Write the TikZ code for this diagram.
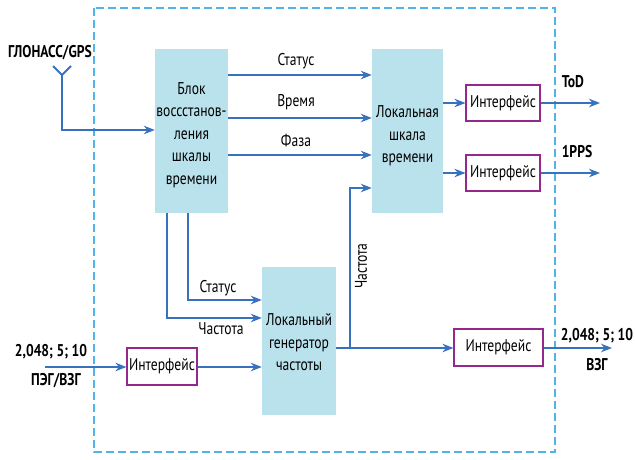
\documentclass[tikz,border=0pt]{standalone}
\usepackage{fontspec}
\setmainfont{PT Sans}[FakeStretch=0.8]
\usetikzlibrary{arrows.meta,calc}
\definecolor{arrblue}{RGB}{56,114,190}
\definecolor{boxblue}{RGB}{186,226,236}
\definecolor{dashblue}{RGB}{80,180,230}
\definecolor{ifpurple}{RGB}{150,40,140}
\tikzset{
  arr/.style={draw=arrblue, line width=2pt, -{Stealth[length=11pt,width=8.5pt]}},
  ln/.style={draw=arrblue, line width=2pt},
  bigbox/.style={fill=boxblue, draw=none, inner sep=0pt},
  boxtext/.style={align=center, inner sep=0pt, font=\fontsize{17}{22.5}\selectfont},
  ifbox/.style={draw=ifpurple, line width=1.1pt, fill=white, inner sep=0pt, font=\fontsize{17}{20}\selectfont},
  lbl/.style={font=\fontsize{17}{20}\selectfont, inner sep=0pt},
  blbl/.style={font=\fontsize{17}{20}\selectfont\bfseries, inner sep=0pt},
}
\begin{document}
\begin{tikzpicture}[x=1pt,y=-1pt]
\useasboundingbox (0,0) rectangle (635,460);
\draw[dashblue, line width=1.3pt, dash pattern=on 8pt off 4pt] (94,8) rectangle (555,452);

\node[bigbox, minimum width=73pt, minimum height=164pt] (b1) at (191.5,131) {};
\node[boxtext] (b1t) at ($(b1)+(0,4)$) {Блок\\воссстанов-\\ления\\шкалы\\времени};
\node[bigbox, minimum width=71pt, minimum height=164pt] (lts) at (407.5,131) {};
\node[boxtext] (ltst) at ($(lts)+(0,5)$) {Локальная\\шкала\\времени};
\node[bigbox, minimum width=74pt, minimum height=148pt] (gen) at (299,341) {};
\node[boxtext] (gent) at ($(gen)+(0,1.5)$) {Локальный\\генератор\\частоты};
\node[ifbox, minimum width=74pt, minimum height=36pt] (iftod) at (503,103) {Интерфейс};
\node[ifbox, minimum width=74pt, minimum height=36pt] (ifpps) at (503,173) {Интерфейс};
\node[ifbox, minimum width=89pt, minimum height=37pt] (ifout) at (498.5,347.5) {Интерфейс};
\node[ifbox, minimum width=70pt, minimum height=37pt] (ifin) at (162,366.5) {Интерфейс};

% antenna
\node[blbl] (gl) at (50,53) {ГЛОНАСС/GPS};
\coordinate (ant) at (62,75);
\coordinate (in1) at (0,130);
\draw[ln] (53,66) -- (ant) -- (71,66);
\draw[arr] (ant) |- (b1.west |- in1);

% top arrows
\coordinate (ys) at (0,75);
\coordinate (yv) at (0,118);
\coordinate (yf) at (0,155);
\draw[arr] (b1.east |- ys) -- (lts.west |- ys);
\draw[arr] (b1.east |- yv) -- (lts.west |- yv);
\draw[arr] (b1.east |- yf) -- (lts.west |- yf);
\node[lbl] (ls) at (296,61) {Статус};
\node[lbl] (lv) at (296,102) {Время};
\node[lbl] (lf) at (296,141) {Фаза};

% to interfaces
\draw[arr] (lts.east |- iftod) -- (iftod.west);
\draw[arr] (lts.east |- ifpps) -- (ifpps.west);
\coordinate (tod) at (600,103);
\coordinate (pps) at (600,173);
\draw[arr] (iftod.east) -- (tod);
\draw[arr] (ifpps.east) -- (pps);
\node[blbl] (ltod) at (573,82) {ToD};
\node[blbl] (lpps) at (577,152) {1PPS};

% from b1 down to generator
\coordinate (xa) at (188,0);
\coordinate (xb) at (167,0);
\coordinate (ya) at (0,300);
\coordinate (yb) at (0,318);
\draw[arr] (b1.south -| xa) |- (gen.west |- ya);
\draw[arr] (b1.south -| xb) |- (gen.west |- yb);
\node[lbl] (lst2) at (218,288) {Статус};
\node[lbl] (lch2) at (221,329) {Частота};

% input interface
\coordinate (inl) at (45,367);
\draw[arr] (inl) -- (ifin.west |- inl);
\draw[arr] (ifin.east |- inl) -- (gen.west |- inl);
\node[blbl] (lin1) at (51,352) {2,048; 5; 10};
\node[blbl] (lin2) at (56,381) {ПЭГ/ВЗГ};

% generator outputs
\coordinate (yo) at (0,348);
\coordinate (br) at (350,348);
\coordinate (yl) at (0,188);
\draw[arr] (gen.east |- yo) -- (ifout.west |- yo);
\draw[arr] (br) |- (lts.west |- yl);
\node[lbl, rotate=90] (lch3) at (361,266) {Частота};
\coordinate (outr) at (612,348);
\draw[arr] (ifout.east |- yo) -- (outr);
\node[blbl] (lo1) at (597,336) {2,048; 5; 10};
\node[blbl] (lo2) at (597,365) {ВЗГ};
\end{tikzpicture}
\end{document}
